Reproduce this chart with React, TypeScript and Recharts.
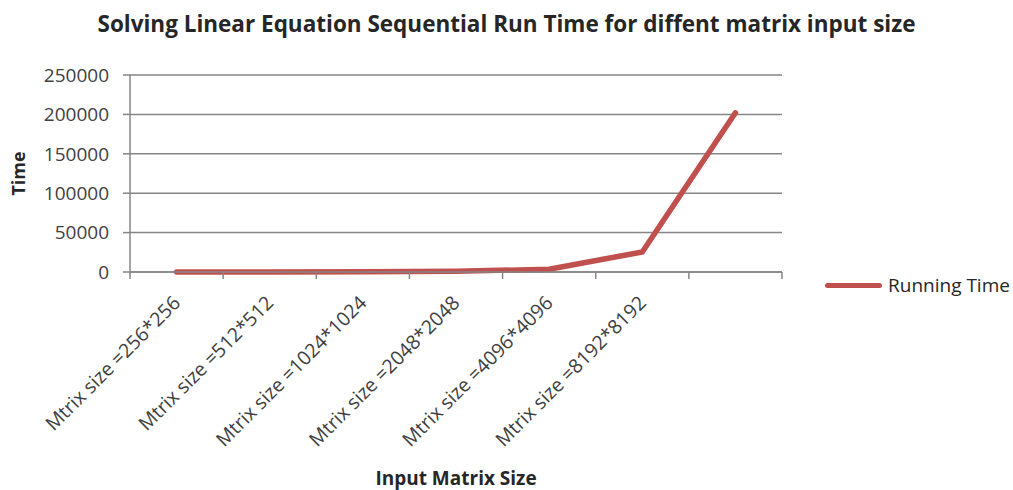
import React from 'react'
import { LineChart, Line, XAxis, YAxis, CartesianGrid } from 'recharts'

const categories = [
  'Mtrix size =256*256',
  'Mtrix size =512*512',
  'Mtrix size =1024*1024',
  'Mtrix size =2048*2048',
  'Mtrix size =4096*4096',
  'Mtrix size =8192*8192',
  '',
]
const runningTime = [40, 150, 400, 900, 3500, 25500, 202000]
const yTicks = [0, 50000, 100000, 150000, 200000, 250000]

const data = categories.map((name, i) => ({ name, time: runningTime[i] }))

const FONT = '"Open Sans", sans-serif'
const GRID = '#868686'
const LINE = '#C0504D'
const BAND = 652 / categories.length

const XTick = (props: any) => {
  const { x, y, payload, index } = props
  const half = BAND / 2
  const tx = x + 5
  const ty = y + 32
  return (
    <g>
      <line x1={x - half} y1={y} x2={x - half} y2={y + 7} stroke={GRID} strokeWidth={1.5} />
      {index === categories.length - 1 && (
        <line x1={x + half} y1={y} x2={x + half} y2={y + 7} stroke={GRID} strokeWidth={1.5} />
      )}
      <text
        x={tx}
        y={ty}
        textAnchor="end"
        transform={`rotate(-45 ${tx} ${ty})`}
        fontFamily={FONT}
        fontSize={19.5}
        fill="#404040"
      >
        {payload.value}
      </text>
    </g>
  )
}

const TimeLabel = (props: any) => {
  const { viewBox } = props
  const cx = 18
  const cy = viewBox.y + viewBox.height / 2
  return (
    <text
      x={cx}
      y={cy}
      textAnchor="middle"
      dominantBaseline="central"
      transform={`rotate(-90 ${cx} ${cy})`}
      fontFamily={FONT}
      fontWeight={700}
      fontSize={18}
      fill="#262626"
    >
      Time
    </text>
  )
}

export default function App() {
  return (
    <div style={{ position: 'absolute', left: 0, top: 0, width: 1013, height: 490, background: '#fff' }}>
      <div
        style={{
          position: 'absolute',
          top: 8,
          left: 0,
          width: 1013,
          textAlign: 'center',
          fontFamily: FONT,
          fontWeight: 700,
          fontSize: 22.5,
          color: '#262626',
          whiteSpace: 'nowrap',
        }}
      >
        Solving Linear Equation Sequential Run Time for diffent matrix input size
      </div>
      <LineChart width={1013} height={490} data={data} margin={{ top: 75, right: 231, left: 0, bottom: 0 }}>
        <CartesianGrid vertical={false} stroke={GRID} strokeWidth={1.5} />
        <XAxis
          dataKey="name"
          scale="band"
          interval={0}
          height={218}
          tickSize={0}
          tickMargin={0}
          tickLine={false}
          axisLine={{ stroke: GRID, strokeWidth: 1.5 }}
          tick={<XTick />}
          label={{
            value: 'Input Matrix Size',
            position: 'insideBottom',
            offset: 5,
            fontFamily: FONT,
            fontWeight: 700,
            fontSize: 19,
            fill: '#262626',
          }}
        />
        <YAxis
          width={130}
          domain={[0, 250000]}
          ticks={yTicks}
          interval={0}
          tickSize={7}
          tickMargin={14}
          tickLine={{ stroke: GRID, strokeWidth: 1.5 }}
          axisLine={{ stroke: GRID, strokeWidth: 1.5 }}
          tick={{ fontFamily: FONT, fontSize: 19, fill: '#404040' }}
          label={<TimeLabel />}
        />
        <Line
          type="linear"
          dataKey="time"
          name="Running Time"
          stroke={LINE}
          strokeWidth={5.5}
          dot={false}
          activeDot={false}
          strokeLinecap="round"
          isAnimationActive={false}
        />
      </LineChart>
      <div
        style={{
          position: 'absolute',
          left: 825,
          top: 272,
          display: 'flex',
          alignItems: 'center',
          fontFamily: FONT,
          fontSize: 19,
          color: '#262626',
          whiteSpace: 'nowrap',
        }}
      >
        <div style={{ width: 57, height: 5, background: LINE, borderRadius: 3, marginRight: 6 }} />
        <span>Running Time</span>
      </div>
    </div>
  )
}
